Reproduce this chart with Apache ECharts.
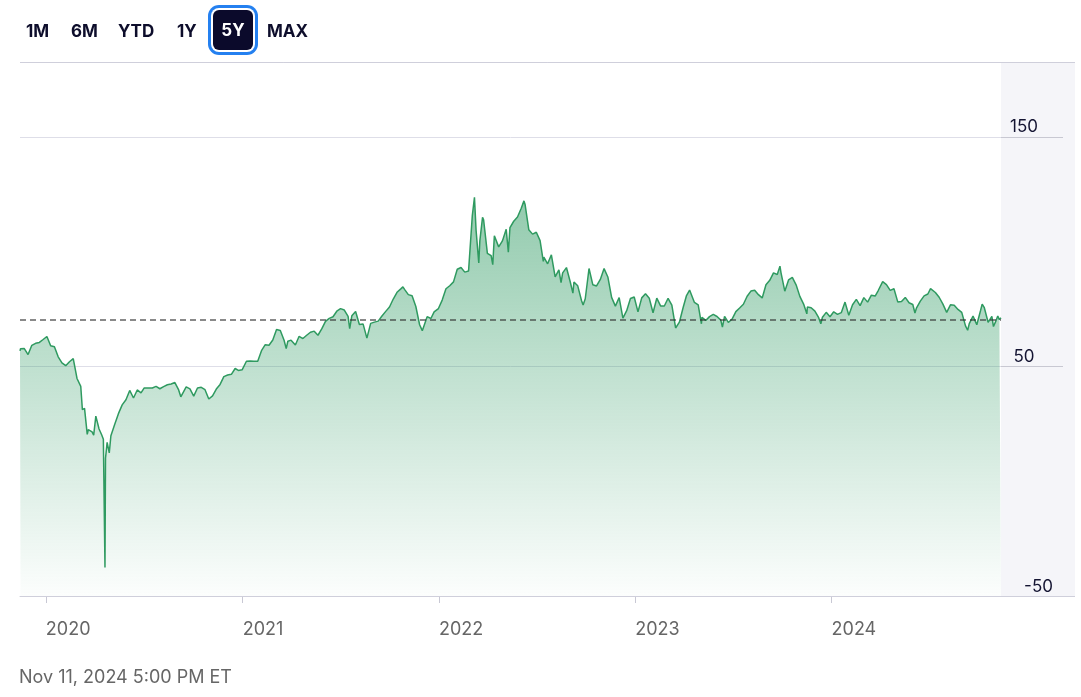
<!DOCTYPE html>
<html><head><meta charset="utf-8">
<script src="https://cdn.jsdelivr.net/npm/echarts@6/dist/echarts.min.js"></script>
<style>
html,body{margin:0;padding:0;background:#fff;}
#wrap{position:relative;width:1081px;height:697px;overflow:hidden;font-family:Inter,"Noto Sans",sans-serif;}
#chart{position:absolute;left:0;top:0;width:1081px;height:697px;}
.btn{position:absolute;top:21px;line-height:20px;font-size:17px;font-weight:700;color:#0d0d2b;white-space:nowrap;}
#sel{position:absolute;left:213px;top:10px;width:40px;height:40px;border-radius:6px;background:#0b0a2b;box-shadow:0 0 0 2px #fff,0 0 0 5px #2480f0;color:#fff;font-size:17px;font-weight:700;line-height:40px;text-align:center;}
#foot{position:absolute;left:19px;top:666px;line-height:22px;font-size:18px;color:#666;white-space:nowrap;}
</style></head><body>
<div id="wrap">
<div id="chart"></div>
<div class="btn" style="left:26px">1M</div>
<div class="btn" style="left:71px">6M</div>
<div class="btn" style="left:118px">YTD</div>
<div class="btn" style="left:177px">1Y</div>
<div id="sel">5Y</div>
<div class="btn" style="left:267px">MAX</div>
<div id="foot">Nov 11, 2024 5:00 PM ET</div>
</div>
<script>
// ---- data ----
const yearTicks = ['2020', '2021', '2022', '2023', '2024'];
const yTickLabels = [-50, 50, 150];
const referenceLevel = 70.43;
const rangeStart = '2019-11-14';
const rangeEnd = '2024-11-11';

const dates2019_2020 = ['2019-11-14','2019-11-15','2019-11-22','2019-11-29','2019-12-06','2019-12-13','2019-12-20','2019-12-27',
'2020-01-03','2020-01-06','2020-01-10','2020-01-17','2020-01-24','2020-01-31','2020-02-07','2020-02-14','2020-02-21','2020-02-28',
'2020-03-06','2020-03-09','2020-03-13','2020-03-18','2020-03-20','2020-03-27','2020-03-30','2020-04-03','2020-04-09','2020-04-14',
'2020-04-17','2020-04-20','2020-04-21','2020-04-24','2020-04-28','2020-05-01','2020-05-08','2020-05-15','2020-05-22','2020-05-29',
'2020-06-05','2020-06-12','2020-06-19','2020-06-26','2020-07-02','2020-07-10','2020-07-17','2020-07-24','2020-07-31','2020-08-07',
'2020-08-14','2020-08-21','2020-08-28','2020-09-04','2020-09-08','2020-09-11','2020-09-18','2020-09-25','2020-10-02','2020-10-09',
'2020-10-16','2020-10-23','2020-10-30','2020-11-06','2020-11-13','2020-11-20','2020-11-27','2020-12-04','2020-12-11','2020-12-18',
'2020-12-24','2020-12-31'];
const prices2019_2020 = [56.77,57.72,57.77,55.17,59.20,60.07,60.44,61.72,
63.05,63.27,59.04,58.54,54.19,51.56,50.32,52.05,53.38,44.76,
41.28,31.13,31.73,20.37,22.43,21.51,20.09,28.34,22.76,20.11,
18.27,-37.63,10.01,16.94,12.34,19.78,24.74,29.43,33.25,35.49,
39.55,36.26,39.75,38.49,40.65,40.55,40.59,41.29,40.27,41.22,
42.01,42.34,42.97,39.77,36.76,37.33,41.11,40.25,37.05,40.60,
40.88,39.85,35.79,37.14,40.13,42.15,45.53,46.26,46.57,49.10,
48.23,48.52];

const dates2021 = ['2021-01-08','2021-01-15','2021-01-22','2021-01-29','2021-02-05','2021-02-12','2021-02-19','2021-02-26',
'2021-03-05','2021-03-12','2021-03-19','2021-03-23','2021-03-26','2021-04-01','2021-04-09','2021-04-16','2021-04-23','2021-04-30',
'2021-05-07','2021-05-14','2021-05-21','2021-05-28','2021-06-04','2021-06-11','2021-06-18','2021-06-25','2021-07-02','2021-07-09',
'2021-07-16','2021-07-19','2021-07-23','2021-07-30','2021-08-06','2021-08-13','2021-08-20','2021-08-27','2021-09-03','2021-09-10',
'2021-09-17','2021-09-24','2021-10-01','2021-10-08','2021-10-15','2021-10-22','2021-10-26','2021-10-29','2021-11-05','2021-11-12',
'2021-11-19','2021-11-26','2021-12-01','2021-12-03','2021-12-10','2021-12-17','2021-12-23','2021-12-31'];
const prices2021 = [52.24,52.36,52.27,52.20,56.85,59.47,59.24,61.50,
66.09,65.61,61.42,57.76,60.97,61.45,59.32,63.13,62.14,63.58,
64.90,65.37,63.58,66.32,69.62,70.91,71.64,74.05,75.16,74.56,
71.81,66.42,72.07,73.95,68.28,68.44,62.32,68.74,69.29,69.72,
71.97,73.98,75.88,79.35,82.28,83.76,84.65,83.57,81.27,80.79,
76.10,68.15,65.57,66.26,71.67,70.86,73.79,75.21];

const dates2022 = ['2022-01-07','2022-01-14','2022-01-21','2022-01-28','2022-02-04','2022-02-11','2022-02-18','2022-02-25',
'2022-03-04','2022-03-08','2022-03-11','2022-03-16','2022-03-18','2022-03-23','2022-03-25','2022-04-01','2022-04-08','2022-04-11',
'2022-04-14','2022-04-22','2022-04-29','2022-05-06','2022-05-10','2022-05-13','2022-05-20','2022-05-27','2022-06-03','2022-06-08',
'2022-06-10','2022-06-17','2022-06-24','2022-07-01','2022-07-08','2022-07-14','2022-07-15','2022-07-22','2022-07-29','2022-08-05',
'2022-08-12','2022-08-16','2022-08-19','2022-08-26','2022-09-02','2022-09-07','2022-09-09','2022-09-16','2022-09-23','2022-09-26',
'2022-09-30','2022-10-07','2022-10-14','2022-10-21','2022-10-28','2022-11-04','2022-11-07','2022-11-11','2022-11-18','2022-11-25',
'2022-12-02','2022-12-09','2022-12-16','2022-12-23','2022-12-30'];
const prices2022 = [78.90,83.82,85.14,86.82,92.31,93.10,91.07,91.59,
115.68,123.70,109.33,95.04,104.70,114.93,113.90,99.27,98.26,94.29,
106.95,102.07,104.69,109.77,99.76,110.49,113.23,115.07,118.87,122.11,
120.67,109.56,107.62,108.43,104.79,95.78,97.59,94.70,98.62,89.01,
92.09,86.53,90.77,93.06,86.87,81.94,86.79,85.11,78.74,76.71,
79.49,92.64,85.61,85.05,87.90,92.61,91.79,88.96,80.08,76.28,
79.98,71.02,74.29,79.56,80.26];

const dates2023 = ['2023-01-06','2023-01-13','2023-01-20','2023-01-27','2023-02-03','2023-02-10','2023-02-17','2023-02-24',
'2023-03-03','2023-03-10','2023-03-17','2023-03-24','2023-03-31','2023-04-06','2023-04-12','2023-04-14','2023-04-21','2023-04-28',
'2023-05-04','2023-05-05','2023-05-12','2023-05-19','2023-05-26','2023-06-02','2023-06-09','2023-06-12','2023-06-16','2023-06-23',
'2023-06-30','2023-07-07','2023-07-14','2023-07-21','2023-07-28','2023-08-04','2023-08-11','2023-08-18','2023-08-25','2023-09-01',
'2023-09-08','2023-09-15','2023-09-22','2023-09-27','2023-09-29','2023-10-06','2023-10-13','2023-10-20','2023-10-27','2023-11-03',
'2023-11-10','2023-11-16','2023-11-17','2023-11-24','2023-12-01','2023-12-08','2023-12-12','2023-12-15','2023-12-22','2023-12-29'];
const prices2023 = [73.77,79.86,81.64,79.68,73.39,79.72,76.34,76.32,
79.68,76.68,66.74,69.26,75.67,80.70,83.26,82.52,77.87,76.78,
68.56,71.34,70.04,71.69,72.67,71.74,70.17,67.12,71.78,69.16,
70.64,73.86,75.42,77.07,80.58,82.82,83.19,81.25,79.83,85.55,
87.51,90.77,90.03,93.68,90.79,82.79,87.69,88.75,85.54,80.51,
77.17,72.90,75.89,75.54,74.07,71.23,68.61,71.43,73.56,71.65];

const dates2024 = ['2024-01-05','2024-01-12','2024-01-19','2024-01-26','2024-02-02','2024-02-09','2024-02-16','2024-02-23',
'2024-03-01','2024-03-08','2024-03-15','2024-03-22','2024-03-28','2024-04-05','2024-04-12','2024-04-19','2024-04-26','2024-05-03',
'2024-05-10','2024-05-17','2024-05-24','2024-05-31','2024-06-04','2024-06-07','2024-06-14','2024-06-21','2024-06-28','2024-07-03',
'2024-07-12','2024-07-19','2024-07-26','2024-08-02','2024-08-05','2024-08-09','2024-08-16','2024-08-23','2024-08-30','2024-09-06',
'2024-09-10','2024-09-13','2024-09-20','2024-09-27','2024-10-04','2024-10-07','2024-10-11','2024-10-18','2024-10-25','2024-10-28',
'2024-11-01','2024-11-05','2024-11-07','2024-11-08','2024-11-11'];
const prices2024 = [73.81,72.68,73.41,78.01,72.28,76.84,79.19,76.49,
79.97,78.01,81.04,80.63,83.17,86.91,85.66,83.14,83.85,78.11,
78.26,80.06,77.72,76.99,73.25,75.53,78.45,80.73,81.54,83.88,
82.21,80.13,77.16,73.52,72.94,76.84,76.65,74.83,73.55,67.67,
65.75,68.65,71.92,68.18,74.38,77.14,75.56,69.22,71.78,67.38,
69.49,71.99,72.36,70.38,71.2];

// ---- build ----
function parseDay(s) { const p = s.split('-'); return +new Date(+p[0], +p[1] - 1, +p[2]); }
const allDates = [].concat(dates2019_2020, dates2021, dates2022, dates2023, dates2024);
const allPrices = [].concat(prices2019_2020, prices2021, prices2022, prices2023, prices2024);
const seriesData = allDates.map((d, i) => [parseDay(d), allPrices[i]]);
const yearStamps = yearTicks.map(y => +new Date(+y, 0, 1));

const chart = echarts.init(document.getElementById('chart'), null, { renderer: 'canvas' });
const FONT = 'Inter, "Noto Sans", sans-serif';
chart.setOption({
  animation: false,
  grid: { left: 20, right: 80, top: 62, bottom: 101 },
  xAxis: {
    type: 'value',
    min: parseDay(rangeStart),
    max: parseDay(rangeEnd),
    axisLine: { show: true, onZero: false, lineStyle: { color: '#cfcfdb', width: 1 } },
    axisTick: { show: true, customValues: yearStamps, length: 7, lineStyle: { color: '#c8c8d4' } },
    axisLabel: {
      customValues: yearStamps,
      formatter: v => String(new Date(v).getFullYear()),
      color: '#666666', fontSize: 18, fontFamily: FONT, align: 'left', margin: 25
    },
    splitLine: { show: false }
  },
  yAxis: {
    type: 'value',
    position: 'right',
    min: -50, max: 182.6, interval: 100,
    axisLine: { show: false },
    axisTick: { show: true, length: 62, lineStyle: { color: '#c8c8d2' } },
    splitLine: { show: true, lineStyle: { color: '#dedee8', width: 1 } },
    axisLabel: {
      formatter: v => {
        if (v === -50) return '{b|' + v + '}';
        return yTickLabels.indexOf(v) >= 0 ? '{a|' + v + '}' : '';
      },
      color: '#141432', fontSize: 17, fontFamily: FONT,
      align: 'center', verticalAlign: 'bottom', margin: 23, lineHeight: 19,
      rich: {
        a: { color: '#141432', fontSize: 17, fontFamily: FONT, lineHeight: 19 },
        b: { color: '#141432', fontSize: 17, fontFamily: FONT, lineHeight: 19, padding: [0, 0, 0, 29] }
      }
    }
  },
  graphic: [
    { type: 'rect', z: -10, shape: { x: 1001, y: 62, width: 74, height: 534 }, style: { fill: '#f5f5f9' }, silent: true },
    { type: 'line', z: 10, shape: { x1: 20, y1: 62.5, x2: 1075, y2: 62.5 }, style: { stroke: '#cfcfdb', lineWidth: 1 }, silent: true },
    { type: 'line', z: 10, shape: { x1: 20, y1: 596.5, x2: 1075, y2: 596.5 }, style: { stroke: '#cfcfdb', lineWidth: 1 }, silent: true }
  ],
  series: [{
    type: 'line',
    data: seriesData,
    showSymbol: false,
    symbol: 'none',
    lineStyle: { color: '#2f9a60', width: 1.5 },
    itemStyle: { color: '#2f9a60' },
    areaStyle: {
      origin: 'start',
      color: new echarts.graphic.LinearGradient(0, 0, 0, 1, [
        { offset: 0, color: 'rgba(46,154,98,0.74)' },
        { offset: 0.5, color: 'rgba(46,154,98,0.38)' },
        { offset: 1, color: 'rgba(46,154,98,0.02)' }
      ])
    },
    markLine: {
      silent: true,
      symbol: 'none',
      label: { show: false },
      lineStyle: { color: 'rgba(45,45,45,0.75)', type: [6, 4], width: 1.5 },
      data: [{ yAxis: referenceLevel }]
    }
  }]
});
</script>
</body></html>
